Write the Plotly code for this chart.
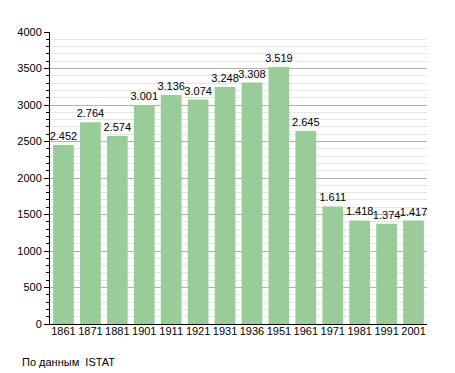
import plotly.graph_objects as go

years = ["1861", "1871", "1881", "1901", "1911", "1921", "1931", "1936", "1951", "1961", "1971", "1981", "1991", "2001"]
population = [2452, 2764, 2574, 3001, 3136, 3074, 3248, 3308, 3519, 2645, 1611, 1418, 1374, 1417]
labels = [f"{v:,}".replace(",", ".") for v in population]

fig = go.Figure()
fig.add_trace(go.Bar(
    x=years, y=population, text=labels, textposition="outside",
    textfont=dict(size=11, color="black", family="Liberation Sans, Arial, sans-serif"),
    marker=dict(color="#99cc99", line=dict(width=0)),
    cliponaxis=False, constraintext="none",
))

fig.update_layout(
    width=447, height=365,
    margin=dict(l=42, r=28, t=24, b=49, autoexpand=False),
    paper_bgcolor="white", plot_bgcolor="white",
    bargap=0.23,
    showlegend=False,
    font=dict(family="Liberation Sans, Arial, sans-serif", size=11, color="black"),
    xaxis=dict(type="category", showline=True, linecolor="black", linewidth=1,
               ticks="", tickfont=dict(size=11), showgrid=False, ticklabelstandoff=-3),
    yaxis=dict(range=[0, 4000], dtick=500, showline=True, linecolor="black", linewidth=1,
               ticks="outside", ticklen=5, tickcolor="black",
               gridcolor="#b0b0b0", gridwidth=1, zeroline=False,
               minor=dict(dtick=100, ticks="outside", ticklen=3, tickcolor="black",
                          showgrid=True, gridcolor="#e6e6e6", gridwidth=1),
               tickfont=dict(size=11)),
)
fig.add_annotation(text="По данным  ISTAT", xref="paper", yref="paper",
                   x=-0.08, y=-0.13, xanchor="left", yanchor="middle",
                   showarrow=False, font=dict(size=11, color="black"))

fig.write_html("out.html")
